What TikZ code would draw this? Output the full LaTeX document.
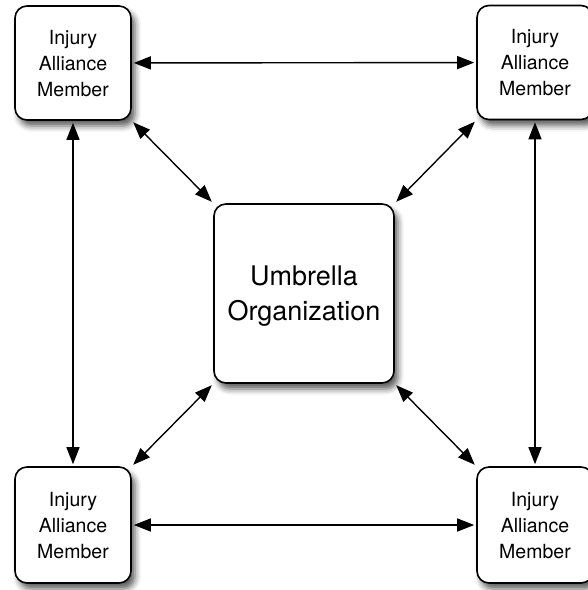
\documentclass[tikz,border=0pt]{standalone}
\usepackage{fontspec}
\setmainfont{TeX Gyre Heros}
\usetikzlibrary{arrows.meta,shadows.blur}
\begin{document}
\begin{tikzpicture}[x=1pt,y=-1pt,
  member/.style={draw=black, line width=1.6pt, fill=white, rounded corners=12pt,
    minimum width=116pt, minimum height=114pt, inner sep=0pt, align=center,
    font=\fontsize{19.5}{26}\selectfont, text depth=0pt,
    blur shadow={shadow xshift=4pt, shadow yshift=-6pt, shadow blur radius=6pt, shadow opacity=65}},
  hub/.style={member, minimum width=180pt, minimum height=179pt,
    font=\fontsize{27}{35}\selectfont},
  link/.style={line width=1.4pt, {Triangle[length=17pt,width=13pt]}-{Triangle[length=17pt,width=13pt]}, shorten <=2pt, shorten >=2pt}
]
\useasboundingbox (0,0) rectangle (588,590);
\node[member] (tl) at (73,63) {Injury\\Alliance\\Member};
\node[member] (tr) at (535,62.5) {Injury\\Alliance\\Member};
\node[member, minimum height=116pt] (bl) at (73,525) {Injury\\Alliance\\Member};
\node[member, minimum height=116pt] (br) at (535,525) {Injury\\Alliance\\Member};
\node[hub] (c) at (304,293.5) {Umbrella\\Organization};
\draw[link] (tl) -- (tr);
\draw[link] (bl) -- (br);
\draw[link] (tl) -- (bl);
\draw[link] (tr) -- (br);
\draw[link] (tl.south east) -- (c.north west);
\draw[link] (tr.south west) -- (c.north east);
\draw[link] (bl.north east) -- (c.south west);
\draw[link] (br.north west) -- (c.south east);
\end{tikzpicture}
\end{document}
